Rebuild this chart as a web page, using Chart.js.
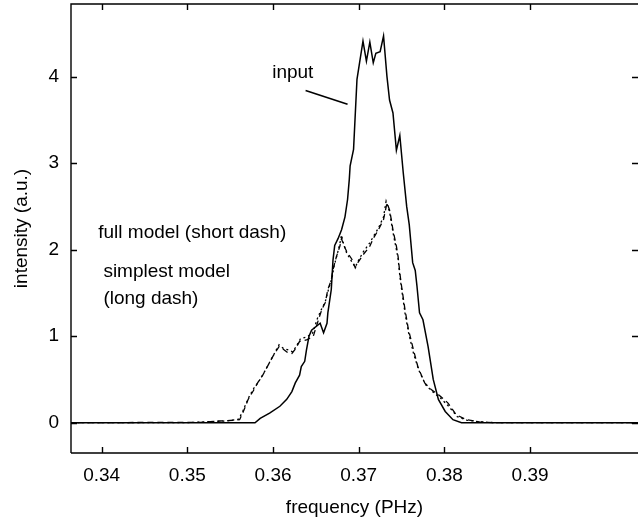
<!DOCTYPE html>
<html>
<head>
<meta charset="utf-8">
<script src="https://cdn.jsdelivr.net/npm/chart.js@4.4.1/dist/chart.umd.min.js"></script>
<style>
  html, body { margin: 0; padding: 0; background: #fff; }
  #wrap { width: 638px; height: 526px; }
</style>
</head>
<body>
<div id="wrap"><canvas id="spectrum"></canvas></div>
<script>
// spectrum data (frequency in PHz, intensity in a.u.)
const inputFreq = [0.3360, 0.3579, 0.3585, 0.3596, 0.3608, 0.3616, 0.3622, 0.3626, 0.3631, 0.3633,
    0.3637, 0.3639, 0.3642, 0.3645, 0.3655, 0.3659, 0.3663, 0.3664, 0.3668, 0.3670,
    0.3672, 0.3676, 0.3680, 0.3684, 0.3687, 0.3689, 0.3690, 0.3694, 0.3698, 0.3701,
    0.3705, 0.3709, 0.3713, 0.3717, 0.3720, 0.3725, 0.3729, 0.3733, 0.3736, 0.3740,
    0.3744, 0.3748, 0.3752, 0.3756, 0.3759, 0.3763, 0.3766, 0.3768, 0.3771, 0.3775,
    0.3781, 0.3787, 0.3793, 0.3801, 0.3810, 0.3820, 0.4030]
const inputIntensity = [0, 0, 0.05, 0.11, 0.19, 0.27, 0.36, 0.46, 0.55, 0.65,
    0.71, 0.84, 1.00, 1.07, 1.15, 1.04, 1.15, 1.27, 1.54, 1.88,
    2.05, 2.13, 2.23, 2.38, 2.58, 2.81, 2.97, 3.16, 3.97, 4.16,
    4.41, 4.18, 4.40, 4.16, 4.27, 4.29, 4.47, 4.00, 3.73, 3.58,
    3.15, 3.32, 2.89, 2.50, 2.29, 1.85, 1.76, 1.58, 1.27, 1.19,
    0.88, 0.50, 0.27, 0.13, 0.035, 0, 0]

const simplestFreq = [0.3360, 0.3515, 0.3538, 0.3556, 0.3561, 0.3565, 0.3571, 0.3577, 0.3582, 0.3588,
    0.3594, 0.3600, 0.3607, 0.3612, 0.3617, 0.3622, 0.3626, 0.3631, 0.3640, 0.3647,
    0.3653, 0.3657, 0.3661, 0.3664, 0.3668, 0.3670, 0.3674, 0.3678, 0.3680, 0.3682,
    0.3686, 0.3692, 0.3696, 0.3699, 0.3705, 0.3713, 0.3717, 0.3723, 0.3729, 0.3733,
    0.3736, 0.3738, 0.3740, 0.3744, 0.3746, 0.3748, 0.3750, 0.3754, 0.3758, 0.3764,
    0.3769, 0.3777, 0.3785, 0.3795, 0.3804, 0.3814, 0.3826, 0.3841, 0.3859, 0.4030]
const simplestIntensity = [0, 0.005, 0.02, 0.03, 0.035, 0.12, 0.27, 0.37, 0.46, 0.55,
    0.66, 0.77, 0.88, 0.85, 0.81, 0.80, 0.85, 0.94, 0.96, 1.00,
    1.19, 1.31, 1.39, 1.54, 1.65, 1.77, 1.92, 2.04, 2.13, 2.06,
    1.98, 1.89, 1.79, 1.85, 1.94, 2.04, 2.13, 2.23, 2.35, 2.54,
    2.46, 2.35, 2.23, 2.04, 1.92, 1.73, 1.58, 1.31, 1.08, 0.84,
    0.65, 0.46, 0.38, 0.31, 0.23, 0.09, 0.035, 0.01, 0, 0]

const fullFreq = [0.3360, 0.3500, 0.3520, 0.3545, 0.3560, 0.3565, 0.3571, 0.3577, 0.3583, 0.3589,
    0.3595, 0.3601, 0.3607, 0.3612, 0.3618, 0.3623, 0.3627, 0.3632, 0.3639, 0.3646,
    0.3652, 0.3656, 0.3661, 0.3665, 0.3669, 0.3671, 0.3675, 0.3678, 0.3680, 0.3682,
    0.3686, 0.3692, 0.3696, 0.3700, 0.3705, 0.3713, 0.3717, 0.3723, 0.3729, 0.3732,
    0.3736, 0.3738, 0.3740, 0.3744, 0.3746, 0.3748, 0.3750, 0.3754, 0.3758, 0.3764,
    0.3770, 0.3778, 0.3786, 0.3796, 0.3805, 0.3815, 0.3826, 0.3842, 0.3860, 0.4030]
const fullIntensity = [0, 0, 0.01, 0.02, 0.04, 0.14, 0.28, 0.39, 0.47, 0.57,
    0.68, 0.79, 0.90, 0.86, 0.84, 0.82, 0.88, 0.97, 0.99, 1.03,
    1.21, 1.30, 1.40, 1.55, 1.68, 1.80, 1.95, 2.07, 2.17, 2.08,
    1.96, 1.86, 1.80, 1.88, 1.97, 2.08, 2.15, 2.25, 2.38, 2.56,
    2.44, 2.32, 2.20, 2.00, 1.90, 1.70, 1.55, 1.27, 1.05, 0.80,
    0.61, 0.44, 0.36, 0.28, 0.19, 0.07, 0.03, 0.01, 0, 0]

const xTicks = [0.34, 0.35, 0.36, 0.37, 0.38, 0.39]
const yTicks = [0, 1, 2, 3, 4]

const fontFamily = '"Liberation Sans", Arial, Helvetica, sans-serif'
const fontSize = 19

function toPoints(xs, ys) {
    return xs.map((x, i) => ({ x: x, y: ys[i] }))
}

// frame, inward ticks and the text notes inside the plot
const frameAndNotes = {
    id: 'frameAndNotes',
    afterDatasetsDraw(chart) {
        const ctx = chart.ctx
        const a = chart.chartArea
        const x = chart.scales.x
        const y = chart.scales.y
        const tickLen = 6

        ctx.save()
        ctx.strokeStyle = '#000'
        ctx.lineWidth = 1.4
        ctx.beginPath()
        ctx.moveTo(a.left, a.bottom)
        ctx.lineTo(a.left, a.top)
        ctx.lineTo(a.right, a.top)
        ctx.moveTo(a.left, a.bottom)
        ctx.lineTo(a.right, a.bottom)
        x.ticks.forEach(t => {
            const px = Math.round(x.getPixelForValue(t.value)) + 0.5
            ctx.moveTo(px, a.bottom)
            ctx.lineTo(px, a.bottom - tickLen)
            ctx.moveTo(px, a.top)
            ctx.lineTo(px, a.top + tickLen)
        })
        y.ticks.forEach(t => {
            const py = Math.round(y.getPixelForValue(t.value)) + 0.5
            ctx.moveTo(a.left, py)
            ctx.lineTo(a.left + tickLen, py)
            ctx.moveTo(a.right, py)
            ctx.lineTo(a.right - tickLen, py)
        })
        ctx.stroke()

        // pointer from "input" to the curve
        ctx.lineWidth = 1.6
        ctx.beginPath()
        ctx.moveTo(x.getPixelForValue(0.3638), y.getPixelForValue(3.84))
        ctx.lineTo(x.getPixelForValue(0.3687), y.getPixelForValue(3.68))
        ctx.stroke()

        ctx.fillStyle = '#000'
        ctx.font = fontSize + 'px ' + fontFamily
        ctx.textBaseline = 'middle'
        ctx.textAlign = 'left'
        ctx.fillText('input', x.getPixelForValue(0.3599), y.getPixelForValue(4.05))
        ctx.fillText('full model (short dash)', x.getPixelForValue(0.3396), y.getPixelForValue(2.20))
        ctx.fillText('simplest model', x.getPixelForValue(0.3402), y.getPixelForValue(1.75))
        ctx.fillText('(long dash)', x.getPixelForValue(0.3402), y.getPixelForValue(1.43))
        ctx.restore()
    }
}

const ctx = document.getElementById('spectrum').getContext('2d')

new Chart(ctx, {
    type: 'line',
    data: {
        datasets: [{
            label: 'input',
            data: toPoints(inputFreq, inputIntensity),
            borderColor: '#000',
            borderWidth: 1.5,
            order: 0
        }, {
            label: 'full model',
            data: toPoints(fullFreq, fullIntensity),
            borderColor: '#000',
            borderWidth: 1.3,
            borderDash: [2, 3],
            order: 1
        }, {
            label: 'simplest model',
            data: toPoints(simplestFreq, simplestIntensity),
            borderColor: '#000',
            borderWidth: 1.3,
            borderDash: [6, 4],
            order: 2
        }]
    },
    options: {
        responsive: true,
        maintainAspectRatio: false,
        animation: false,
        layout: { padding: { top: 4, right: 0, left: 0, bottom: 0 } },
        elements: {
            point: { radius: 0 },
            line: { tension: 0, fill: false }
        },
        plugins: {
            legend: { display: false },
            tooltip: { enabled: false }
        },
        scales: {
            x: {
                type: 'linear',
                min: 0.33642,
                max: 0.4026,
                border: { display: false },
                grid: { display: false, drawTicks: false },
                afterBuildTicks: scale => { scale.ticks = xTicks.map(v => ({ value: v })) },
                afterFit: scale => {
                    scale.height = 73
                    scale.paddingLeft = 0
                    scale.paddingRight = 0
                },
                ticks: {
                    color: '#000',
                    padding: 11,
                    font: { family: fontFamily, size: fontSize },
                    callback: v => v.toFixed(2)
                },
                title: {
                    display: true,
                    text: 'frequency (PHz)',
                    color: '#000',
                    font: { family: fontFamily, size: fontSize },
                    padding: { top: 0, bottom: 7 }
                }
            },
            y: {
                type: 'linear',
                min: -0.35,
                max: 4.84,
                border: { display: false },
                grid: { display: false, drawTicks: false },
                afterBuildTicks: scale => { scale.ticks = yTicks.map(v => ({ value: v })) },
                afterFit: scale => {
                    scale.width = 71
                    scale.paddingTop = 0
                    scale.paddingBottom = 0
                },
                ticks: {
                    color: '#000',
                    padding: 12,
                    font: { family: fontFamily, size: fontSize },
                    callback: v => String(v)
                },
                title: {
                    display: true,
                    text: 'intensity (a.u.)',
                    color: '#000',
                    font: { family: fontFamily, size: fontSize },
                    padding: { top: 10, bottom: 0 }
                }
            }
        }
    },
    plugins: [frameAndNotes]
})
</script>
</body>
</html>
